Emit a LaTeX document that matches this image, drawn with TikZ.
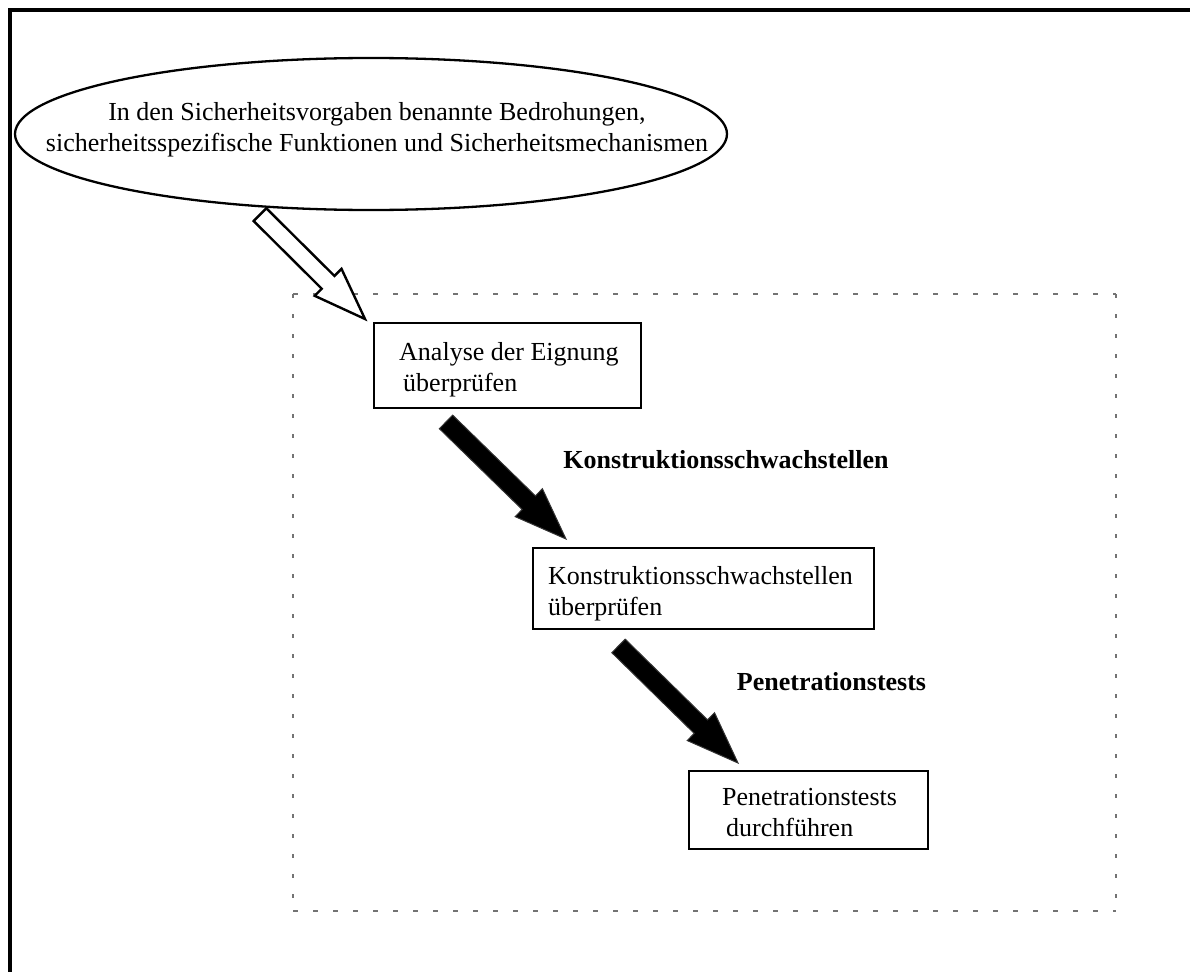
\documentclass[tikz,border=0pt]{standalone}
\usepackage{fontspec}
\setmainfont{Liberation Serif}
\usetikzlibrary{shapes.geometric,calc}
\tikzset{
 txt/.style={inner sep=0pt, align=left, font=\fontsize{26}{31}\selectfont},
 lbl/.style={inner sep=0pt, font=\fontsize{26}{31}\selectfont\bfseries},
 boxnode/.style={draw=black, line width=2.4pt, rectangle, inner sep=0pt, anchor=north west},
 hollowarrow/.style={draw=black, fill=white, line width=2.4pt, line join=miter},
 solidarrow/.style={draw=black!80, fill=black, line width=1pt, line join=miter},
 dashh/.style={draw=black!55, line width=1.3pt, dash pattern=on 5pt off 15pt},
 dashv/.style={draw=black!55, line width=1.5pt, dash pattern=on 3.5pt off 16.5pt},
 outerframe/.style={draw=black, line width=4.5pt, line join=miter},
}
\newcommand{\myblockarrow}[5]{%
 \coordinate (#1base) at ($(#2)!52pt!(#1)$);
 \draw[#3] ($(#1)!#4!90:(#2)$) -- ($(#1base)!#4!90:(#2)$) -- ($(#1base)!#5!90:(#2)$) -- (#2) -- ($(#1base)!#5!-90:(#2)$) -- ($(#1base)!#4!-90:(#2)$) -- ($(#1)!#4!-90:(#2)$) -- cycle;}
\begin{document}
\begin{tikzpicture}[x=1pt,y=-1pt]
\useasboundingbox (0,0) rectangle (1190,971);
\draw[outerframe] (10,975) -- (10,10) -- (1195,10);
\coordinate (fnw) at (293,294);
\coordinate (fne) at (1116,294);
\coordinate (fsw) at (293,911);
\coordinate (fse) at (1116,911);
\draw[dashh] (fnw) -- (fne);
\draw[dashh] (fsw) -- (fse);
\draw[dashv] (fnw) -- (fsw);
\draw[dashv] (fne) -- (fse);
\node[ellipse, draw=black, line width=2.3pt, minimum width=712pt, minimum height=152pt, inner sep=0pt] (ell) at (371,134) {};
\node[txt, align=center] (elltxt) at (377,129.5) {In den Sicherheitsvorgaben benannte Bedrohungen,\\sicherheitsspezifische Funktionen und Sicherheitsmechanismen};
\node[boxnode, minimum width=267pt, minimum height=85pt] (b1) at (373,322) {};
\node[txt, anchor=west] (b1txt) at (399,369.5) {Analyse der Eignung\\\hspace*{4pt}überprüfen};
\node[boxnode, minimum width=341pt, minimum height=81pt] (b2) at (532,547) {};
\node[txt, anchor=west] (b2txt) at (548,593.5) {Konstruktionsschwachstellen\\überprüfen};
\node[boxnode, minimum width=239pt, minimum height=78pt] (b3) at (688,770) {};
\node[txt, anchor=west] (b3txt) at (722,812.5) {Penetrationstests\\\hspace*{4pt}durchführen};
\node[lbl] (l1) at (726,460) {Konstruktionsschwachstellen};
\node[lbl] (l2) at (831.5,682) {Penetrationstests};
\coordinate (a1s) at ($(ell.south)+(-111,3.5)$);
\coordinate (a1e) at ($(b1.north west)+(-8,-3)$);
\myblockarrow{a1s}{a1e}{hollowarrow}{9pt}{19pt}
\coordinate (a2s) at ($(b1.south west)+(73,12.5)$);
\coordinate (a2e) at ($(b2.north west)+(34,-8)$);
\myblockarrow{a2s}{a2e}{solidarrow}{9.5pt}{19.5pt}
\coordinate (a3s) at ($(b2.south west)+(86.5,15.5)$);
\coordinate (a3e) at ($(b3.north west)+(50,-7)$);
\myblockarrow{a3s}{a3e}{solidarrow}{9.5pt}{19.5pt}
\end{tikzpicture}
\end{document}
